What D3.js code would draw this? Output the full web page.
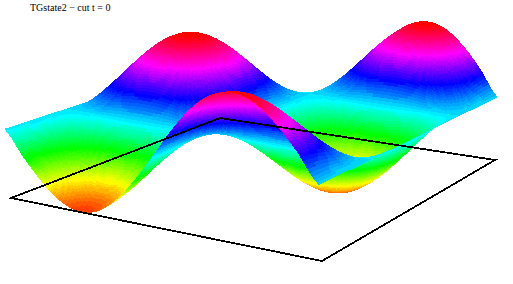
<!DOCTYPE html>
<html>
<head>
<meta charset="utf-8">
<script src="https://cdn.jsdelivr.net/npm/d3@7"></script>
<style>
  body { margin: 0; background: #fff; }
  svg { display: block; }
</style>
</head>
<body>
<div id="chart"></div>
<script>
// surface heights, one row per step along the front-left edge
var title = "TGstate2 \u2212 cut t = 0"
var heights = [
  [0,0,0,0,0,0,0,0,0,0,0,0,0,0,0,0,0],
  [-.383,-.354,-.271,-.146,0,.146,.271,.354,.383,.354,.271,.146,0,-.146,-.271,-.354,-.383],
  [-.707,-.653,-.5,-.271,0,.271,.5,.653,.707,.653,.5,.271,0,-.271,-.5,-.653,-.707],
  [-.924,-.854,-.653,-.354,0,.354,.653,.854,.924,.854,.653,.354,0,-.354,-.653,-.854,-.924],
  [-1,-.924,-.707,-.383,0,.383,.707,.924,1,.924,.707,.383,0,-.383,-.707,-.924,-1],
  [-.924,-.854,-.653,-.354,0,.354,.653,.854,.924,.854,.653,.354,0,-.354,-.653,-.854,-.924],
  [-.707,-.653,-.5,-.271,0,.271,.5,.653,.707,.653,.5,.271,0,-.271,-.5,-.653,-.707],
  [-.383,-.354,-.271,-.146,0,.146,.271,.354,.383,.354,.271,.146,0,-.146,-.271,-.354,-.383],
  [0,0,0,0,0,0,0,0,0,0,0,0,0,0,0,0,0],
  [.383,.354,.271,.146,0,-.146,-.271,-.354,-.383,-.354,-.271,-.146,0,.146,.271,.354,.383],
  [.707,.653,.5,.271,0,-.271,-.5,-.653,-.707,-.653,-.5,-.271,0,.271,.5,.653,.707],
  [.924,.854,.653,.354,0,-.354,-.653,-.854,-.924,-.854,-.653,-.354,0,.354,.653,.854,.924],
  [1,.924,.707,.383,0,-.383,-.707,-.924,-1,-.924,-.707,-.383,0,.383,.707,.924,1],
  [.924,.854,.653,.354,0,-.354,-.653,-.854,-.924,-.854,-.653,-.354,0,.354,.653,.854,.924],
  [.707,.653,.5,.271,0,-.271,-.5,-.653,-.707,-.653,-.5,-.271,0,.271,.5,.653,.707],
  [.383,.354,.271,.146,0,-.146,-.271,-.354,-.383,-.354,-.271,-.146,0,.146,.271,.354,.383],
  [0,0,0,0,0,0,0,0,0,0,0,0,0,0,0,0,0]
]
var heightDomain = [-1, 1]
var hueRange = [15, 360]

var w = 513
var h = 284
var steps = 10 // mesh cells drawn per table cell
var levels = 64 // colour bands

// unit square to picture quad, corners in order (0,0) (1,0) (1,1) (0,1)
var make_homography = function(q){
  var dx1 = q[1][0] - q[2][0], dx2 = q[3][0] - q[2][0], sx = q[0][0] - q[1][0] + q[2][0] - q[3][0]
  var dy1 = q[1][1] - q[2][1], dy2 = q[3][1] - q[2][1], sy = q[0][1] - q[1][1] + q[2][1] - q[3][1]
  var det = dx1 * dy2 - dx2 * dy1
  var g = (sx * dy2 - dx2 * sy) / det
  var k = (dx1 * sy - sx * dy1) / det
  return function(u, v){
    var d = g * u + k * v + 1
    return [
      ((q[1][0] - q[0][0] + g * q[1][0]) * u + (q[3][0] - q[0][0] + k * q[3][0]) * v + q[0][0]) / d,
      ((q[1][1] - q[0][1] + g * q[1][1]) * u + (q[3][1] - q[0][1] + k * q[3][1]) * v + q[0][1]) / d
    ]
  }
}

var floorCorners = [[11, 198], [322, 261], [495, 160], [220, 118]]
var midCorners = [[4, 129], [319, 185], [498, 97], [221, 58]]
var on_floor = make_homography(floorCorners)
var on_mid = make_homography(midCorners)
// the tops stretch a little more than the lower half, the camera is above
var lift = d3.scaleLinear().domain([-1, 0, 1]).range([0, 1, 2.05])

var project = function(u, v, z){
  var a = on_floor(u, v)
  var b = on_mid(u, v)
  var t = lift(z)
  return [a[0] + (b[0] - a[0]) * t, a[1] + (b[1] - a[1]) * t]
}

// smooth reading between table values, only so the mesh is not faceted
var spline = function(p0, p1, p2, p3, t){
  return p1 + 0.5 * t * (p2 - p0 + t * (2 * p0 - 5 * p1 + 4 * p2 - p3 + t * (3 * (p1 - p2) + p3 - p0)))
}
var n = heights.length - 1
var pick = function(i, j){
  return heights[Math.max(0, Math.min(n, i))][Math.max(0, Math.min(n, j))]
}
var height_at = function(u, v){
  var x = Math.min(u * n, n - 1e-9), y = Math.min(v * n, n - 1e-9)
  var i = Math.floor(x), j = Math.floor(y)
  var row = d3.range(-1, 3).map(function(d){
    return spline(pick(i + d, j - 1), pick(i + d, j), pick(i + d, j + 1), pick(i + d, j + 2), y - j)
  })
  return spline(row[0], row[1], row[2], row[3], x - i)
}

var hue = d3.scaleLinear().domain(heightDomain).range(hueRange)
var palette = d3.range(levels).map(function(i){
  return d3.hsl(hue(heightDomain[0] + (heightDomain[1] - heightDomain[0]) * i / (levels - 1)), 1, 0.5).formatHex()
})
var band = d3.scaleQuantize().domain(heightDomain).range(palette)

// far corner first, so nearer cells paint over farther ones
var cells = n * steps
var quads = []
d3.range(cells + 1).forEach(function(i){
  quads.push(d3.range(cells + 1).map(function(j){
    var u = i / cells, v = j / cells, z = height_at(u, v)
    return { p: project(u, v, z), z: z }
  }))
})

var mesh = []
d3.range(cells).forEach(function(i){
  d3.range(cells - 1, -1, -1).forEach(function(j){
    var a = quads[i][j], b = quads[i + 1][j], c = quads[i + 1][j + 1], e = quads[i][j + 1]
    mesh.push({ pts: [a.p, b.p, c.p, e.p], z: (a.z + b.z + c.z + e.z) / 4 })
  })
})

var svg = d3.select("#chart")
  .append("svg")
  .attr("width", w)
  .attr("height", h)

var outline = d3.line()

svg.append("g")
  .attr("shape-rendering", "crispEdges")
  .selectAll("path")
  .data(mesh)
  .join("path")
  .attr("d", function(d){ return outline(d.pts) + "Z" })
  .attr("fill", function(d){ return band(d.z) })

svg.append("path")
  .attr("d", outline(floorCorners) + "Z")
  .attr("fill", "none")
  .attr("stroke", "#000")
  .attr("stroke-width", 1.8)
  .attr("shape-rendering", "crispEdges")

svg.append("text")
  .attr("x", 30)
  .attr("y", 11)
  .attr("font-family", "Liberation Serif")
  .attr("font-size", 10)
  .attr("fill", "#000")
  .text(title)
</script>
</body>
</html>
